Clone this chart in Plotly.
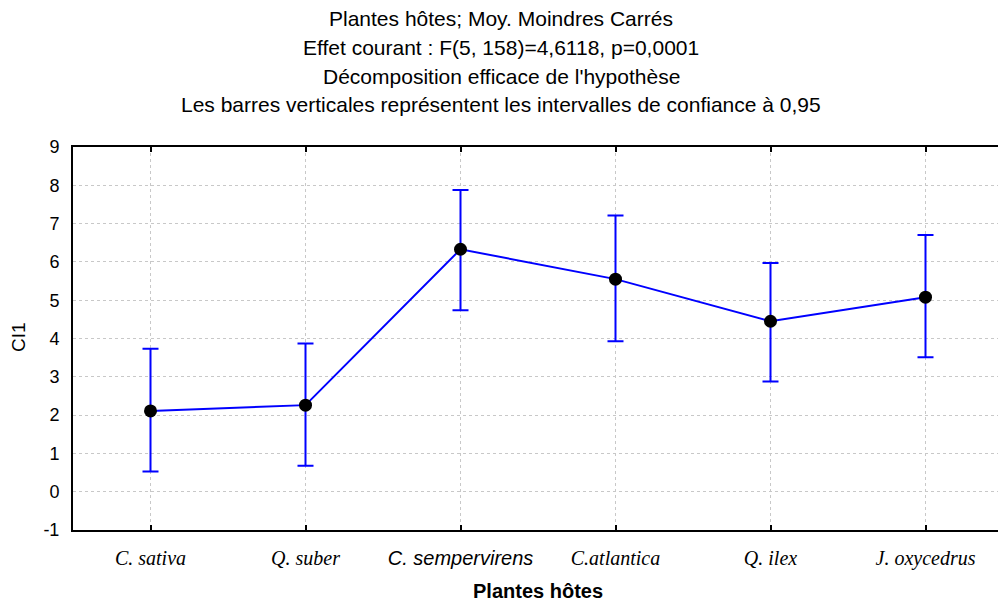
import plotly.graph_objects as go

# Least-squares means of CI1 per host plant, with 95% confidence limits
plants = ["C. sativa", "Q. suber", "C. sempervirens", "C.atlantica", "Q. ilex", "J. oxycedrus"]
means = [2.11, 2.26, 6.33, 5.55, 4.45, 5.08]
lower = [0.53, 0.68, 4.74, 3.93, 2.88, 3.51]
upper = [3.73, 3.87, 7.88, 7.21, 5.97, 6.70]
y_ticks = list(range(-1, 10))

SANS = "Liberation Sans, Arial, sans-serif"
SERIF = "Liberation Serif, Times New Roman, serif"

W, H = 998, 603
ML, MT, MB = 73, 147, 73
plot_h = H - MT - MB
plot_w = W - ML

xpos = list(range(len(plants)))
err_plus = [u - m for u, m in zip(upper, means)]
err_minus = [m - l for m, l in zip(means, lower)]

ticktext = []
for p in plants:
    if p == "C. sempervirens":
        ticktext.append(f'<span style="font-family:{SANS}"><i>{p}</i></span>')
    else:
        ticktext.append(f"<i>{p}</i>")

fig = go.Figure()
fig.add_trace(go.Scatter(
    x=xpos, y=means,
    mode="lines+markers",
    line=dict(color="#0000ff", width=2),
    marker=dict(color="black", size=13, symbol="circle"),
    error_y=dict(type="data", symmetric=False, array=err_plus, arrayminus=err_minus,
                 color="#0000ff", thickness=2, width=8),
    showlegend=False,
    cliponaxis=False,
))


def py(px):
    # pixel row -> paper y
    return 1 + (MT - px) / plot_h


def px_(x):
    return (x - ML) / plot_w


title_lines = [
    "Plantes hôtes; Moy. Moindres Carrés",
    "Effet courant : F(5, 158)=4,6118, p=0,0001",
    "Décomposition efficace de l'hypothèse",
    "Les barres verticales représentent les intervalles de confiance à 0,95",
]
title_rows = [18, 47, 76, 105]
annotations = []
for t, r in zip(title_lines, title_rows):
    annotations.append(dict(text=t, xref="paper", yref="paper", x=px_(501), y=py(r),
                            xanchor="center", yanchor="middle", showarrow=False,
                            font=dict(family=SANS, size=21, color="black")))
annotations.append(dict(text="<b>Plantes hôtes</b>", xref="paper", yref="paper",
                        x=px_(538), y=py(591), xanchor="center", yanchor="middle",
                        showarrow=False, font=dict(family=SANS, size=20, color="black")))
annotations.append(dict(text="CI1", xref="paper", yref="paper", x=px_(18), y=py(337),
                        xanchor="center", yanchor="middle", textangle=-90,
                        showarrow=False, font=dict(family=SANS, size=19, color="black")))

fig.update_layout(
    width=W, height=H,
    margin=dict(l=ML, r=0, t=MT, b=MB, pad=0),
    paper_bgcolor="white", plot_bgcolor="white",
    annotations=annotations,
    xaxis=dict(
        range=[-0.5, -0.5 + plot_w / 155.0],
        tickvals=xpos, ticktext=ticktext,
        tickfont=dict(family=SERIF, size=20, color="black"),
        ticks="inside", ticklen=5, tickwidth=2, tickcolor="black",
        showline=True, linecolor="black", linewidth=2, mirror="ticks",
        showgrid=True, gridcolor="#c8c8c8", griddash="dot", gridwidth=1,
        zeroline=False, fixedrange=True, ticklabelstandoff=9,
    ),
    yaxis=dict(
        range=[-1, 9], tickvals=y_ticks, ticktext=[str(v) for v in y_ticks],
        tickfont=dict(family=SANS, size=18, color="black"),
        ticks="", showline=True, linecolor="black", linewidth=2,
        showgrid=True, gridcolor="#c8c8c8", griddash="dot", gridwidth=1,
        zeroline=False, fixedrange=True, ticklabelstandoff=8,
    ),
)

fig.write_html("out.html")
